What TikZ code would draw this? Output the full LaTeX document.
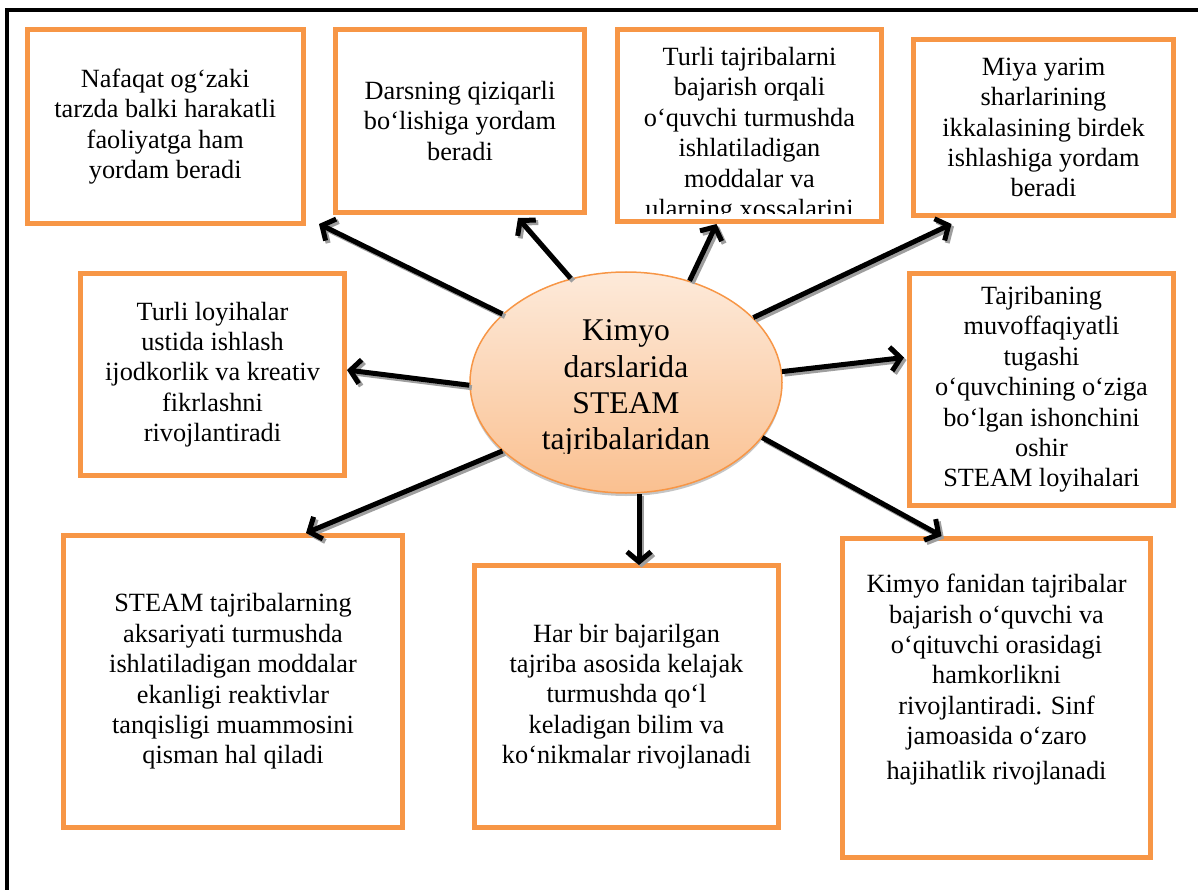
\documentclass[tikz,border=0pt]{standalone}
\usepackage{fontspec}
\setmainfont{Liberation Serif}
\usetikzlibrary{arrows.meta,shapes.geometric,shadows}
\definecolor{boxorange}{HTML}{F79646}
\definecolor{hubtop}{HTML}{FDEADA}
\definecolor{hubbottom}{HTML}{FAC090}
\tikzset{
  box/.style={draw=boxorange, line width=5pt, fill=white, align=center, inner sep=0pt,
    font=\fontsize{26.3}{30.4}\selectfont},
  txt/.style={align=center, inner sep=0pt, font=\fontsize{26.3}{30.4}\selectfont},
  link/.style={line width=5pt, -{Straight Barb[length=10pt,width=24pt]},
    preaction={draw=black!38, line width=5pt, -{Straight Barb[length=10pt,width=24pt]},
      transform canvas={shift={(2.5pt,-2.5pt)}}}},
  frame/.style={line width=4.5pt, line join=miter}
}
\begin{document}
\begin{tikzpicture}[x=1pt,y=-1pt]
        \useasboundingbox (0,0) rectangle (1198,890);
        \draw[frame] (7,895) -- (7,10) -- (1205,10);

        \node[ellipse, draw=boxorange, line width=1.5pt, top color=hubtop, bottom color=hubbottom,
          minimum width=312pt, minimum height=221pt,
          drop shadow={shadow xshift=0pt, shadow yshift=-3pt, fill=black!45}] (hub) at (626,382.5) {};
        \begin{scope}
          \clip (470,272) rectangle (782,453);
          \node[txt, anchor=north, font=\fontsize{31.6}{36.4}\selectfont] (hubtext) at (626,319.5)
            {Kimyo\\darslarida\\STEAM\\tajribalaridan};
        \end{scope}

        \node[box, minimum width=276.5pt, minimum height=194pt] (abox) at (165.25,126.5)
          {Nafaqat og‘zaki\\tarzda balki harakatli\\faoliyatga ham\\yordam beradi};
        \node[box, minimum width=249pt, minimum height=183pt] (bbox) at (460,121)
          {Darsning qiziqarli\\bo‘lishiga yordam\\beradi};
        \node[box, minimum width=264pt, minimum height=192pt] (cbox) at (749.5,125.5) {};
        \begin{scope}
          \clip (617,30) rectangle (882,214);
          \node[txt, anchor=north] (ctext) at (749.5,47)
            {Turli tajribalarni\\bajarish orqali\\o‘quvchi turmushda\\ishlatiladigan\\moddalar va\\ularning xossalarini};
        \end{scope}
        \node[box, minimum width=260pt, minimum height=176pt] (dbox) at (1043.5,127.5)
          {Miya yarim\\sharlarining\\ikkalasining birdek\\ishlashiga yordam\\beradi};
        \node[box, minimum width=264pt, minimum height=202pt] (ebox) at (212.5,374.5)
          {Turli loyihalar\\ustida ishlash\\ijodkorlik va kreativ\\fikrlashni\\rivojlantiradi};
        \node[box, minimum width=264pt, minimum height=232pt] (fbox) at (1041.5,389.5)
          {Tajribaning\\muvoffaqiyatli\\tugashi\\o‘quvchining o‘ziga\\bo‘lgan ishonchini\\oshir\\STEAM loyihalari};
        \node[box, minimum width=339pt, minimum height=292pt] (gbox) at (233,681.5)
          {STEAM tajribalarning\\aksariyati turmushda\\ishlatiladigan moddalar\\ekanligi reaktivlar\\tanqisligi muammosini\\qisman hal qiladi};
        \node[box, minimum width=304pt, minimum height=262pt] (hbox) at (626.5,696.5)
          {Har bir bajarilgan\\tajriba asosida kelajak\\turmushda qo‘l\\keladigan bilim va\\ko‘nikmalar rivojlanadi};
        \node[box, minimum width=308pt, minimum height=319pt] (ibox) at (996.5,698) {};
        \node[txt, anchor=north] (itext) at (996.5,574)
          {Kimyo fanidan tajribalar\\bajarish o‘quvchi va\\o‘qituvchi orasidagi\\hamkorlikni\\rivojlantiradi. Sinf\\jamoasida o‘zaro\\[4.5pt]hajihatlik rivojlanadi};

        \draw[link] (hub.151) -- ([xshift=13pt,yshift=2pt]abox.south east);
        \draw[link] (hub.118) -- ([xshift=58pt,yshift=-3pt]bbox.south);
        \draw[link] (hub.58) -- ([xshift=-33pt]cbox.south);
        \draw[link] (hub.27) -- ([xshift=-92pt,yshift=-6pt]dbox.south);
        \draw[link] (hub.181) -- ([yshift=4.5pt]ebox.east);
        \draw[link] (hub.4) -- ([xshift=-3pt,yshift=32pt]fbox.west);
        \draw[link] (hub.209) -- ([xshift=73pt]gbox.north);
        \draw[link] ([xshift=13pt]hub.south) -- ([xshift=12.5pt,yshift=-2pt]hbox.north);
        \draw[link] (hub.338) -- ([xshift=-55pt]ibox.north);
\end{tikzpicture}
\end{document}
